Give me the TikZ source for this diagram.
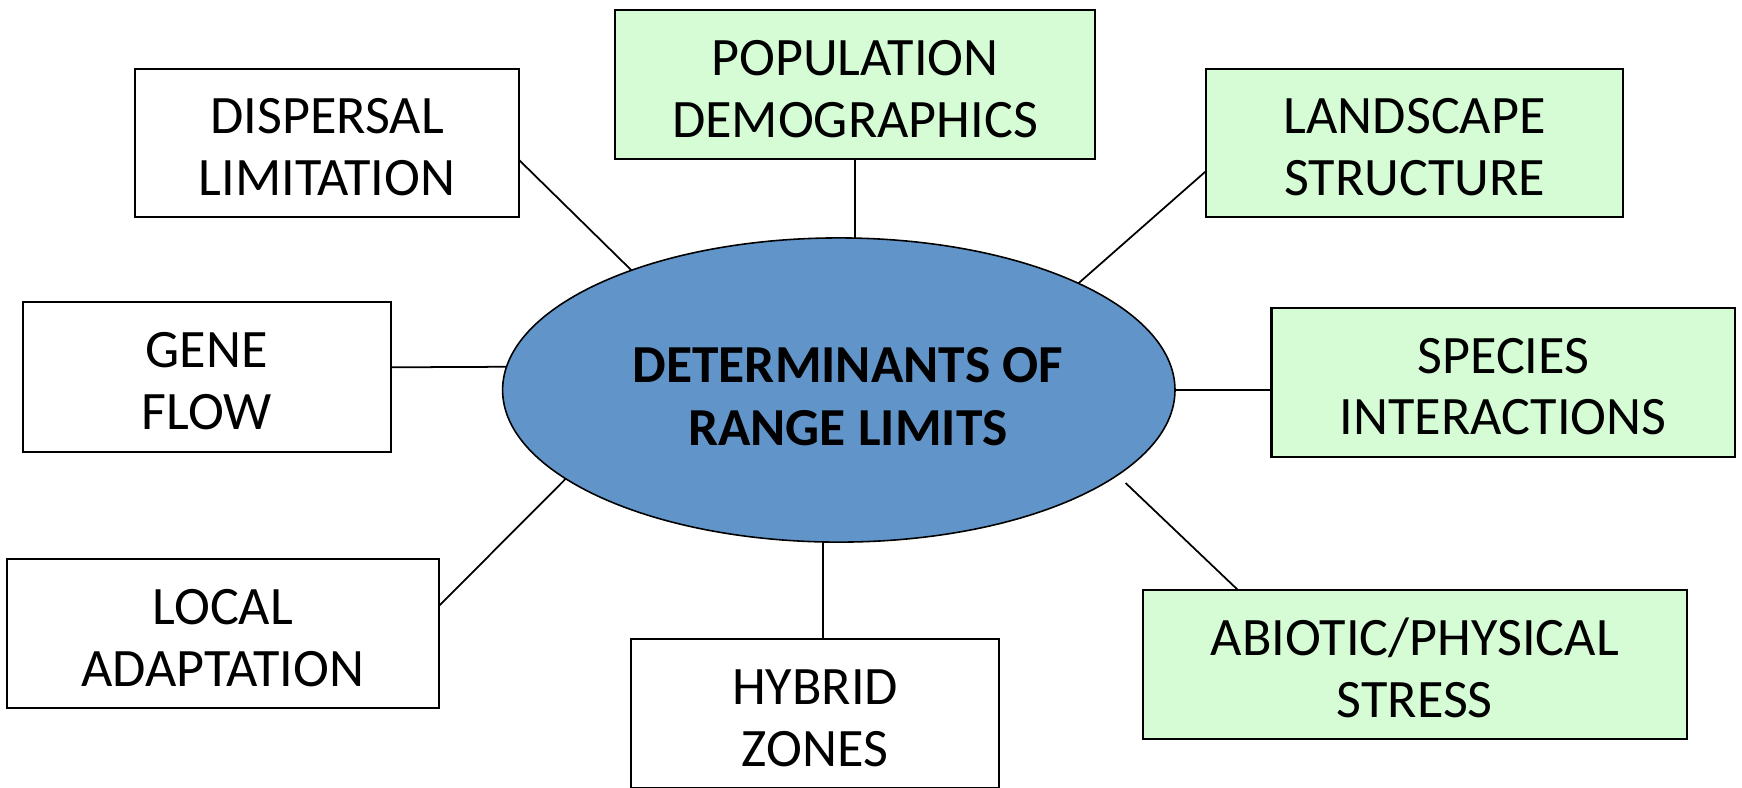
\documentclass[tikz,border=0pt]{standalone}
\usepackage{fontspec}
\setmainfont{Carlito}
\usetikzlibrary{shapes.geometric}
\definecolor{boxgreen}{RGB}{213,252,213}
\definecolor{ellblue}{RGB}{97,149,201}
\newcommand\tstr{\rule{0pt}{0.81em}}
\newcommand\cstr{\rule{0pt}{0.91em}\hspace*{0.18cm}}
\begin{document}
\begin{tikzpicture}[x=0.01cm,y=-0.01cm,
  box/.style={draw=black, line width=0.6pt, rectangle, inner sep=0pt, outer sep=0pt,
    align=center, font=\fontsize{15.4pt}{17.6pt}\selectfont, fill=white},
  gbox/.style={box, fill=boxgreen},
  hub/.style={ellipse, draw=black, line width=0.45pt, fill=ellblue, inner sep=0pt, outer sep=0pt,
    minimum width=6.72cm, minimum height=3.04cm, align=center,
    font=\fontsize{15.2pt}{18pt}\selectfont\bfseries},
  link/.style={draw=black, line width=0.5pt}]
\useasboundingbox (0,0) rectangle (1742,787);
\clip (0,0) rectangle (1742,787);
\node[hub] (ell) at (838.8,390) {\cstr DETERMINANTS OF\\\hspace*{0.18cm}RANGE LIMITS};
\node[box, minimum width=3.84cm, minimum height=1.48cm] (disp) at (327,143) {\tstr DISPERSAL\\LIMITATION};
\node[gbox, minimum width=4.80cm, minimum height=1.49cm] (pop) at (855,84.5) {\tstr POPULATION\\DEMOGRAPHICS};
\node[gbox, minimum width=4.165cm, minimum height=1.48cm] (land) at (1414.8,143) {\tstr LANDSCAPE\\STRUCTURE};
\node[box, minimum width=3.68cm, minimum height=1.50cm] (gene) at (206.7,377) {\tstr GENE\\FLOW};
\node[gbox, minimum width=4.633cm, minimum height=1.49cm] (spec) at (1503.3,382.2) {\tstr SPECIES\\INTERACTIONS};
\node[box, minimum width=4.32cm, minimum height=1.49cm] (local) at (222.8,633.3) {\tstr LOCAL\\ADAPTATION};
\node[box, minimum width=3.68cm, minimum height=1.49cm] (hyb) at (815,713.5) {\tstr HYBRID\\ZONES};
\node[gbox, minimum width=5.433cm, minimum height=1.488cm] (abio) at (1414.9,664.4) {\tstr ABIOTIC/PHYSICAL\\STRESS};
\draw[link] ([yshift=-0.17cm]disp.east) -- (ell.150);
\draw[link] (pop.south) -- (pop.south |- ell.north);
\draw[link] ([yshift=-0.277cm]land.west) -- (ell.24);
\draw[link] ([yshift=0.097cm]gene.east) -- (ell.176);
\draw[link] (ell.east) -- (ell.east -| spec.west);
\draw[link] ([yshift=0.273cm]local.east) -- (ell.198);
\draw[link] ([xshift=0.083cm]hyb.north) -- ([xshift=0.083cm]hyb.north |- ell.south);
\draw[link, shorten <=0.114cm] (ell.-17) -- ([xshift=-1.769cm]abio.north);
\end{tikzpicture}
\end{document}
